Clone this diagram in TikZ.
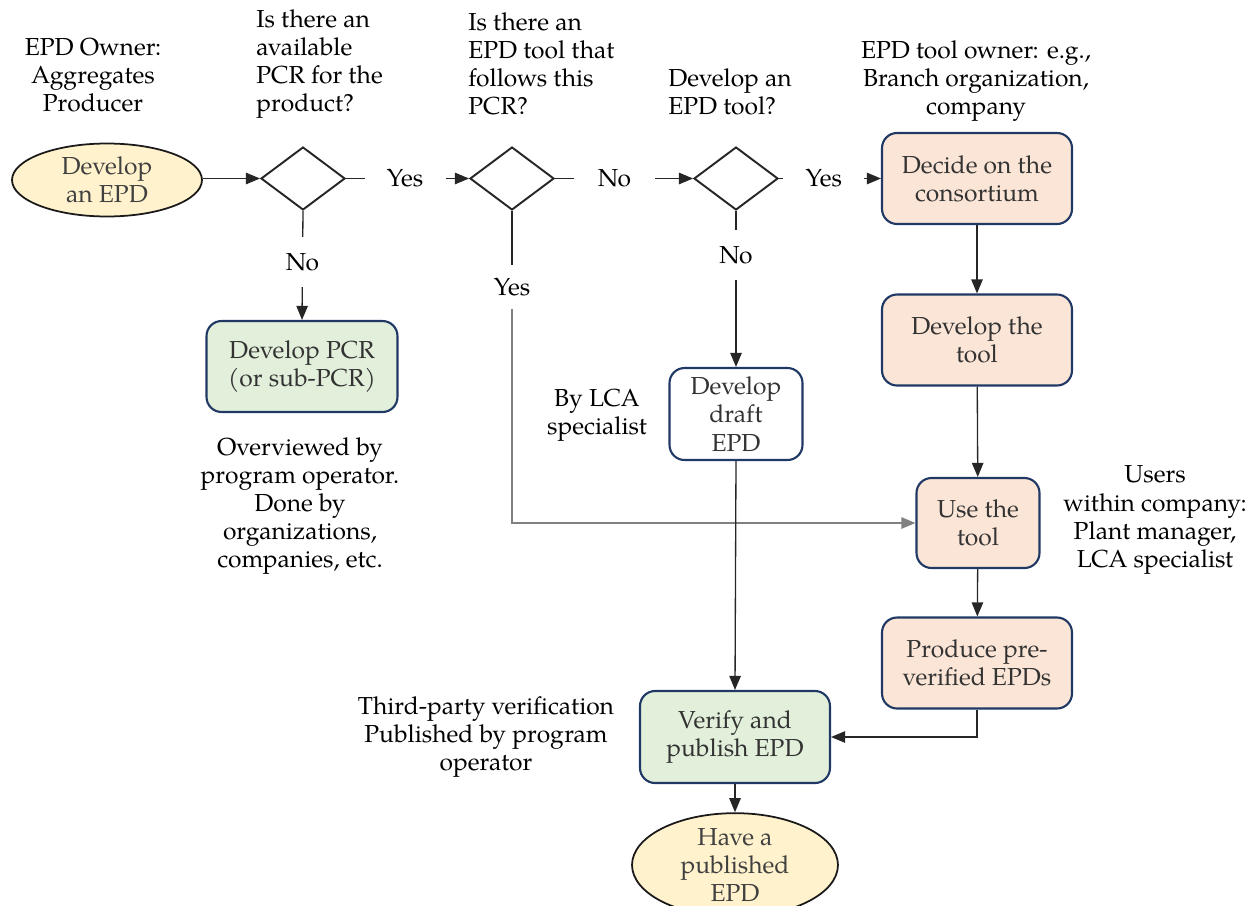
\documentclass[tikz,border=0pt]{standalone}
\usepackage{fontspec}
\setmainfont{TeX Gyre Pagella}
\usetikzlibrary{shapes.geometric,arrows.meta}

\definecolor{ellfill}{HTML}{FFF2CC}
\definecolor{greenfill}{HTML}{E2EFDA}
\definecolor{peachfill}{HTML}{FBE5D6}
\definecolor{boxline}{HTML}{203864}
\definecolor{boxtext}{HTML}{333333}
\definecolor{elltext}{HTML}{404040}
\definecolor{linkgray}{HTML}{808080}
\definecolor{linkdark}{HTML}{262626}

\begin{document}
\begin{tikzpicture}[x=0.02cm,y=-0.02cm,
  font=\fontsize{14}{16}\selectfont,
  every node/.style={align=center, inner sep=0pt},
  terminal/.style={ellipse, draw=black!90, line width=1pt, fill=ellfill,
    text=elltext},
  decision/.style={diamond, draw=black!85, line width=1.1pt, fill=white,
    minimum width=1.68cm, minimum height=1.26cm},
  process/.style={rectangle, rounded corners=0.3cm, draw=boxline,
    line width=1.2pt, text=boxtext, minimum height=1.82cm},
  greenbox/.style={process, fill=greenfill},
  peachbox/.style={process, fill=peachfill},
  whitebox/.style={process, fill=white},
  note/.style={text=black},
  link/.style={draw=linkdark, line width=0.75pt},
  arr/.style={link, -{Triangle[length=8pt,width=6.5pt]}},
  grayarr/.style={draw=linkgray, line width=0.75pt,
    -{Triangle[length=8pt,width=6.5pt]}},
  gaph/.style={fill=white, minimum width=1.62cm, text=black},
  gapv/.style={fill=white, minimum height=1.0cm, minimum width=0.9cm, text=black},
]
\useasboundingbox (0,0) rectangle (1251,906);

% ---- nodes of the flow ----
\node[terminal, minimum width=3.8cm, minimum height=1.46cm] (start) at (107,180) {Develop\\an EPD};
\node[decision] (d1) at (303,178.5) {};
\node[decision] (d2) at (512,178.5) {};
\node[decision] (d3) at (736,178.5) {};

\node[peachbox, minimum width=3.8cm] (decide) at (977,178.5) {Decide on the\\consortium};
\node[peachbox, minimum width=3.8cm] (devtool) at (977,340) {Develop the\\tool};
\node[peachbox, minimum width=2.46cm, minimum height=1.8cm] (use) at (978,523) {Use the\\tool};
\node[peachbox, minimum width=3.8cm] (produce) at (977,663) {Produce pre-\\verified EPDs};

\node[greenbox, minimum width=3.82cm] (pcr) at (302,366.5) {Develop PCR\\(or sub-PCR)};
\node[whitebox, minimum width=2.66cm, minimum height=1.84cm] (draft) at (736,414) {Develop\\draft\\EPD};
\node[greenbox, minimum width=3.8cm, minimum height=1.84cm] (verify) at (735,737) {Verify and\\publish EPD};
\node[terminal, minimum width=4.12cm, minimum height=1.76cm] (finish) at (735,865) {Have a\\published\\EPD};

% ---- annotations ----
\node[note] (owner) at (93,75) {EPD Owner:\\Aggregates\\Producer};
\node[note, align=left, anchor=west] (q1) at (256,64) {Is there an\\available\\PCR for the\\product?};
\node[note, align=left, anchor=west] (q2) at (468,64) {Is there an\\EPD tool that\\follows this\\PCR?};
\node[note, align=left, anchor=west] (q3) at (668,92) {Develop an\\EPD tool?};
\node[note] (toolowner) at (976,81) {EPD tool owner: e.g.,\\Branch organization,\\company};
\node[note] (overview) at (300,506) {Overviewed by\\program operator.\\Done by\\organizations,\\companies, etc.};
\node[note] (bylca) at (597,415) {By LCA\\specialist};
\node[note] (users) at (1155,520) {Users\\within company:\\Plant manager,\\LCA specialist};
\node[note] (thirdparty) at (486,737) {Third-party verification\\Published by program\\operator};

% ---- connectors ----
\draw[arr] (start.east |- d1.west) -- (d1.west);
\draw[arr] (d1.east) -- node[gaph, pos=0.48] {Yes} (d2.west);
\draw[arr] (d2.east) -- node[gaph, pos=0.43] {No} (d3.west);
\draw[arr] (d3.east) -- node[gaph, pos=0.44] {Yes} (decide.west);

\draw[arr] (d1.south) -- node[gapv, pos=0.47] {No} (pcr.north);
\draw[arr] (d3.south) -- node[gapv, pos=0.285] {No} (draft.north);

\node[minimum height=0.88cm, text=black] (yes2) at (512,287) {Yes};
\draw[link] (d2.south) -- (yes2.north);
\draw[grayarr] (yes2.south) |- (use.west);

\draw[arr] (decide) -- (devtool);
\draw[arr] (devtool) -- (use);
\draw[arr] (use) -- (produce);
\draw[arr] (draft.south) -- (verify.north);
\draw[arr] (produce.south) |- (verify.east);
\draw[arr] (verify) -- (finish);
\end{tikzpicture}
\end{document}
